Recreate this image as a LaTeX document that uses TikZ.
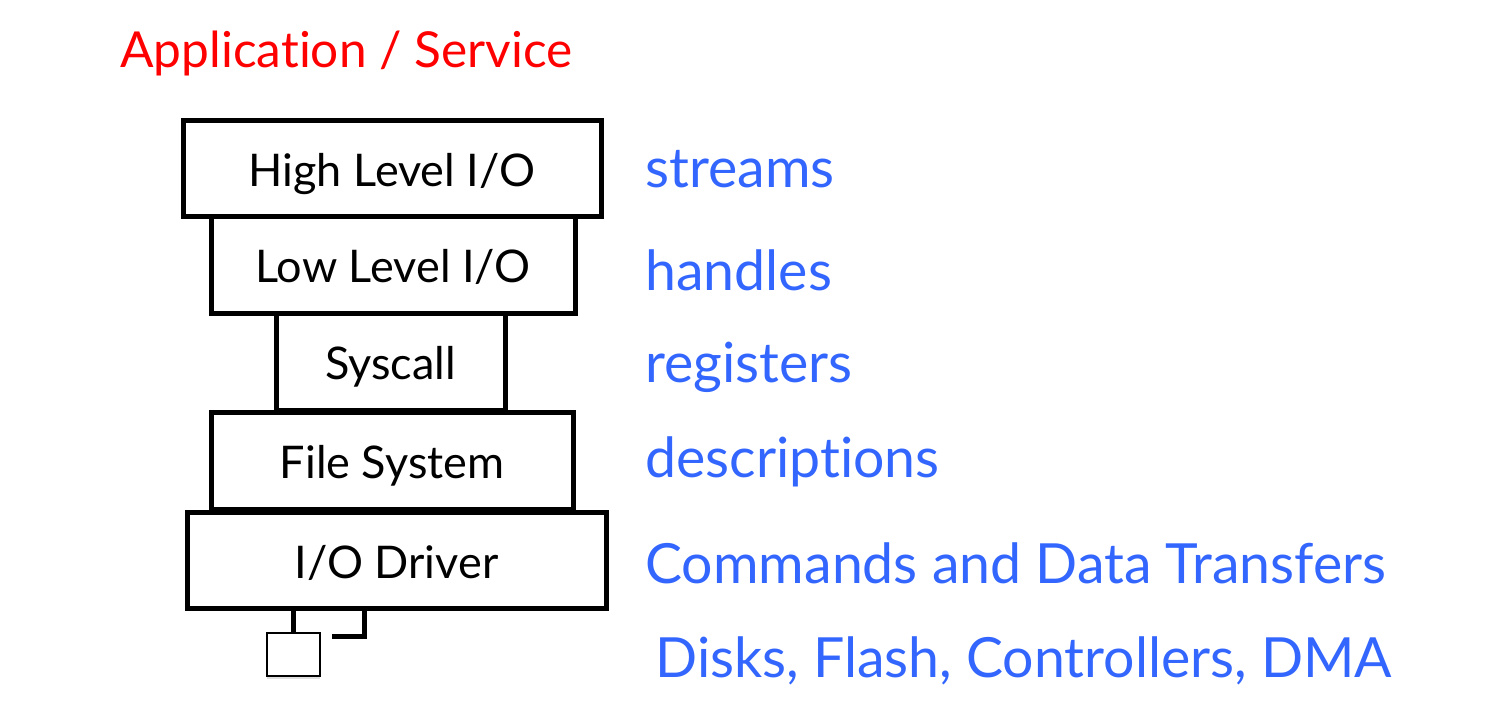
\documentclass[tikz,border=0pt]{standalone}
\usepackage{fontspec}
\setmainfont{Lato}[Ligatures=NoCommon]
\usetikzlibrary{positioning,shadows}
\definecolor{layerblue}{RGB}{51,102,255}
\definecolor{appred}{RGB}{255,0,0}
\tikzset{
  layer/.style={draw, line width=2.5pt, inner sep=0pt, text height=18pt, text depth=0pt, font=\fontsize{22.5}{26}\selectfont},
  tag/.style={anchor=base west, inner sep=0pt, text=layerblue, font=\fontsize{27.7}{31}\selectfont},
  devbox/.style={draw, line width=0.6pt, fill=white, minimum width=26.5pt, minimum height=21.5pt, drop shadow={opacity=0.25, shadow xshift=0pt, shadow yshift=-1.5pt}},
  wire/.style={line width=2.5pt},
}

\begin{document}
\begin{tikzpicture}[x=0.5pt, y=-0.5pt]
          \useasboundingbox (0,0) rectangle (1497,714);
          \node[anchor=base west, inner sep=0pt, text=appred, font=\fontsize{24.8}{28}\selectfont] (app) at (120,67) {Application / Service};
          % the stack of layers
          \node[layer, minimum width=209pt, minimum height=48pt] (high) at (392,168) {High Level I/O};
          \node[layer, minimum width=182pt, minimum height=48.5pt] (low) at (393,264.5) {Low Level I/O};
          \node[layer, minimum width=114.5pt, minimum height=48.5pt] (sys) at (390.5,361.5) {Syscall};
          \node[layer, minimum width=181pt, minimum height=48.5pt] (fs) at (392,460.5) {File System};
          \node[layer, minimum width=209.5pt, minimum height=48pt] (drv) at (396.5,560) {I/O Driver};
          \node[devbox] (dev) at (293.5,654.5) {};
          \coordinate (jack) at (364,608);
          \coordinate (plug) at (332,636);
          \draw[wire] (dev.north) -- (dev.north |- drv.south);
          \draw[wire] (plug) -| (jack);
          % what each layer works with
          \node[tag] (streams) at (645,187) {streams};
          \node[tag] (handles) at (645,290) {handles};
          \node[tag] (regs) at (645,382) {registers};
          \node[tag] (descr) at (645,477) {descriptions};
          \node[tag] (cmds) at (645,583) {Commands and Data Transfers};
          \node[tag] (disks) at (655,677) {Disks, Flash, Controllers, DMA};
        \end{tikzpicture}
\end{document}
